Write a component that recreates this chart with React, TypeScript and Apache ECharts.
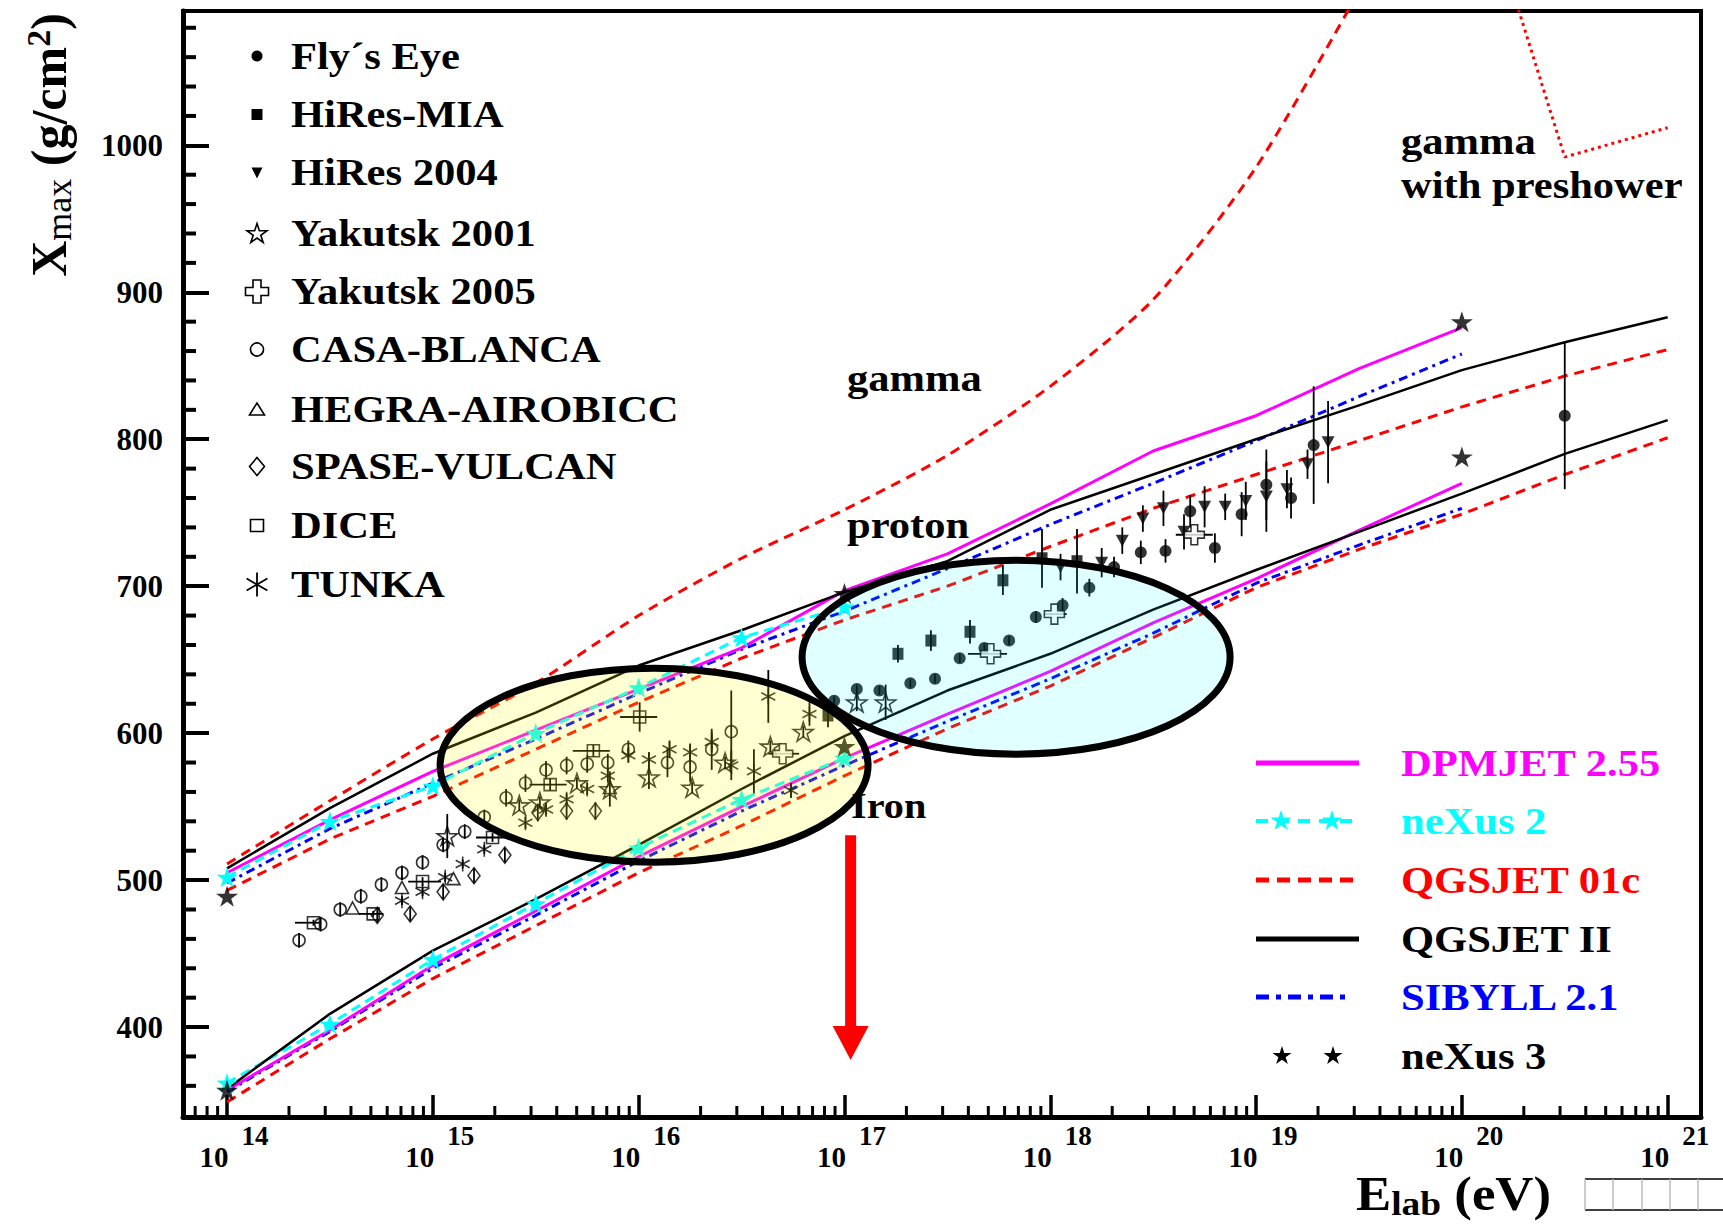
import { useEffect, useRef } from 'react';
import * as echarts from 'echarts';

const SERIF = '"Liberation Serif", "Times New Roman", Times, serif';

// ---- axis ranges (log10 E, Xmax) ----
const X_MIN = 13.786;
const X_MAX = 21.162;
const Y_MIN = 338.8;
const Y_MAX = 1091.4;

const xMajorTicks = [14, 15, 16, 17, 18, 19, 20, 21];
const yMajorTicks = [400, 500, 600, 700, 800, 900, 1000];

// ---- model curves ----
const logE = [14, 14.5, 15, 15.5, 16, 16.5, 17, 17.5, 18, 18.5, 19, 19.5, 20, 20.5, 21];
const qgsjetIIProton = [508, 549, 586, 614, 646, 670, 696, 717, 752, 776, 800, 823, 847, 866, 883];
const qgsjetIIIron = [358, 409, 452, 487, 524, 562, 598, 629, 654, 684, 711, 737, 763, 790, 813];
const qgsjet01cProton = [493, 528, 557, 589, 621, 651, 677, 700, 727, 753, 776, 799, 822, 843, 861];
const qgsjet01cIron = [349, 392, 433, 469, 505, 537, 571, 603, 632, 665, 699, 725, 749, 776, 801];
const dpmjetProton = [505, 541, 574, 602, 630, 658, 697, 722, 756, 792, 816, 848, 876];
const dpmjetIron = [357, 398, 442, 479, 516, 550, 583, 613, 642, 675, 705, 738, 770];
const sibyllProton = [498, 535, 566, 596, 627, 657, 683, 712, 742, 770, 799, 829, 858];
const sibyllIron = [356, 397, 440, 476, 513, 547, 578, 608, 637, 668, 702, 728, 753];
const nexus2Proton = [502, 540, 564, 600, 631, 665, 686];
const nexus2Iron = [362, 402, 446, 484, 522, 555, 583];
const gammaLogE = [14, 14.5, 15, 15.5, 16, 16.5, 17, 17.5, 18, 18.5, 19, 19.5];
const gammaXmax = [511, 554, 596, 634, 680, 719, 752, 789, 836, 895, 985, 1105];
const preshowerLogE = [20, 20.5, 21];
const preshowerXmax = [1215, 992, 1012];
const nexus3LogE = [14, 17, 20];
const nexus3Proton = [489, 695, 880];
const nexus3Iron = [357, 591, 788];

// ---- measurements ----
const flysEyeLogE = [16.95, 17.06, 17.17, 17.32, 17.44, 17.56, 17.68, 17.8, 17.93, 18.06, 18.19, 18.31, 18.44, 18.56, 18.68, 18.8, 18.93, 19.05, 19.17, 19.28, 20.5];
const flysEyeXmax = [622, 630, 629, 634, 637, 651, 658, 663, 679, 687, 699, 713, 723, 724, 751, 726, 749, 769, 760, 796, 816];
const flysEyeErr = [3, 3, 3, 3, 3, 3, 3, 3, 4, 5, 6, 7, 8, 8, 11, 10, 15, 24, 14, 40, 50];

const hiresMiaLogE = [16.92, 17.26, 17.42, 17.61, 17.77, 17.96, 18.13];
const hiresMiaXmax = [612, 654, 663, 669, 704, 719, 717];
const hiresMiaErr = [8, 6, 7, 8, 10, 20, 22];

const hires04LogE = [18.05, 18.25, 18.35, 18.45, 18.55, 18.65, 18.75, 18.85, 18.95, 19.05, 19.15, 19.25, 19.35];
const hires04Xmax = [713, 716, 731, 746, 753, 737, 754, 754, 758, 761, 766, 783, 798];
const hires04Err = [9, 10, 9, 9, 12, 12, 14, 9, 13, 24, 13, 10, 28];

const yak01LogE = [15.07, 15.42, 15.52, 15.7, 15.86, 16.05, 16.26, 16.42, 16.64, 16.8, 17.06, 17.2];
const yak01Xmax = [530, 551, 553, 566, 562, 570, 563, 580, 591, 601, 621, 621];
const yak01Err = [15, 4, 4, 4, 12, 8, 4, 4, 4, 4, 6, 12];

const yak05LogE = [16.7, 17.71, 18.02, 18.7];
const yak05Xmax = [586, 654, 681, 735];
const yak05Lo = [16.63, 17.6, 17.97, 18.61];
const yak05Hi = [16.78, 17.79, 18.08, 18.79];

const casaLogE = [14.35, 14.455, 14.55, 14.65, 14.75, 14.85, 14.95, 15.05, 15.155, 15.25, 15.356, 15.45, 15.55, 15.65, 15.75, 15.85, 15.95, 16.14, 16.25, 16.355, 16.45];
const casaXmax = [459, 470, 480, 489, 497, 505, 512, 524, 533, 543, 556, 566, 575, 578, 579, 580, 589, 580, 577, 589, 601];
const casaErr = [5, 5, 5, 5, 5, 5, 5, 5, 5, 5, 6, 6, 6, 6, 6, 6, 6, 10, 10, 14, 28];

const hegraLogE = [14.61, 14.85, 15.1, 15.86];
const hegraXmax = [481, 495, 501, 563];

const spaseLogE = [14.73, 14.89, 15.05, 15.2, 15.35, 15.51, 15.65, 15.79];
const spaseXmax = [476, 477, 492, 503, 517, 546, 547, 547];
const spaseErr = [5, 5, 5, 5, 5, 6, 6, 6];

const diceLogE = [14.42, 14.71, 14.95, 15.29, 15.57, 15.78, 16.005];
const diceXmax = [471, 477, 499, 529, 565, 588, 611];
const diceErr = [2, 2, 3, 3, 4, 4, 10];
const diceLo = [14.33, 14.64, 14.88, 15.21, 15.47, 15.68, 15.91];
const diceHi = [14.45, 14.76, 15.04, 15.37, 15.65, 15.86, 16.09];

const tunkaLogE = [14.85, 14.95, 15.06, 15.145, 15.25, 15.45, 15.55, 15.65, 15.75, 15.85, 15.95, 16.05, 16.15, 16.25, 16.355, 16.45, 16.56, 16.63, 16.74, 16.83];
const tunkaXmax = [486, 492, 502, 511, 521, 539, 548, 555, 562, 571, 585, 582, 589, 587, 594, 578, 574, 625, 561, 613];
const tunkaErr = [3, 3, 3, 3, 3, 4, 4, 4, 4, 4, 5, 5, 6, 6, 7, 10, 15, 18, 5, 8];

// ---- legends / annotations text ----
const dataLegendNames = ['Fly\u00b4s Eye', 'HiRes-MIA', 'HiRes 2004', 'Yakutsk 2001', 'Yakutsk 2005', 'CASA-BLANCA', 'HEGRA-AIROBICC', 'SPASE-VULCAN', 'DICE', 'TUNKA'];
const modelLegendNames = ['DPMJET 2.55', 'neXus 2', 'QGSJET 01c', 'QGSJET II', 'SIBYLL 2.1', 'neXus 3'];
const modelColors = ['#ff00ff', '#00ffff', '#ff0000', '#000000', '#0000ff', '#000000'];

// annotation anchors in data space
const yellowEllipseCenter = [16.075, 578.2];
const cyanEllipseCenter = [17.834, 651.7];
const arrowLogE = 17.03;
const arrowTop = 530.6;
const arrowHeadBase = 400.7;
const arrowTip = 377.6;

const STAR = 'path://M0,-10L2.245,-3.09L9.511,-3.09L3.633,1.18L5.878,8.09L0,3.82L-5.878,8.09L-3.633,1.18L-9.511,-3.09L-2.245,-3.09Z';
const CROSS = 'path://M-3,-9L3,-9L3,-3L9,-3L9,3L3,3L3,9L-3,9L-3,3L-9,3L-9,-3L-3,-3Z';
const ASTER = 'path://M0,-10L0,10M-8.66,-5L8.66,5M-8.66,5L8.66,-5';

const zip = (xs: number[], ys: number[]) => ys.map((y, i) => [xs[i], y]);

const modelLine = (name: string, xs: number[], ys: number[], color: string, width: number, type: any, z = 2, extra: any = {}) => ({
  name,
  type: 'line',
  data: zip(xs, ys),
  showSymbol: false,
  symbol: 'none',
  lineStyle: { color, width, type },
  z,
  silent: true,
  ...extra,
});

const nexus2Line = (name: string, ys: number[]) => ({
  name,
  type: 'line',
  data: zip(logE, ys),
  showSymbol: true,
  symbol: STAR,
  symbolSize: 21,
  symbolKeepAspect: true,
  itemStyle: { color: '#00ffff' },
  lineStyle: { color: '#00ffff', width: 3, type: [10, 6] },
  z: 3,
  silent: true,
});

const scatter = (name: string, xs: number[], ys: number[], symbol: string, size: any, filled: boolean, extra: any = {}) => ({
  name,
  type: 'scatter',
  data: zip(xs, ys),
  symbol,
  symbolSize: size,
  symbolKeepAspect: true,
  itemStyle: filled
    ? { color: '#000' }
    : { color: 'rgba(255,255,255,0)', borderColor: '#000', borderWidth: 1.6 },
  z: 5,
  silent: true,
  ...extra,
});

const vErr = (xs: number[], ys: number[], errs: number[]) => ({
  type: 'custom',
  silent: true,
  z: 4,
  data: xs.map((x, i) => [x, ys[i], ys[i] - errs[i], ys[i] + errs[i]]),
  encode: { x: 0, y: 1 },
  renderItem: (_p: any, api: any) => {
    const a = api.coord([api.value(0), api.value(2)]);
    const b = api.coord([api.value(0), api.value(3)]);
    return { type: 'line', shape: { x1: a[0], y1: a[1], x2: b[0], y2: b[1] }, style: { stroke: '#000', lineWidth: 1.8 } };
  },
});

const hErr = (lo: number[], hi: number[], ys: number[]) => ({
  type: 'custom',
  silent: true,
  z: 4,
  data: lo.map((l, i) => [(l + hi[i]) / 2, ys[i], l, hi[i]]),
  encode: { x: 0, y: 1 },
  renderItem: (_p: any, api: any) => {
    const a = api.coord([api.value(2), api.value(1)]);
    const b = api.coord([api.value(3), api.value(1)]);
    return { type: 'line', shape: { x1: a[0], y1: a[1], x2: b[0], y2: b[1] }, style: { stroke: '#000', lineWidth: 1.8 } };
  },
});

const xMinorTicks: number[] = [];
for (let d = 13; d <= 21; d++) {
  for (let k = 2; k <= 9; k++) {
    const v = d + Math.log10(k);
    if (v > X_MIN && v < X_MAX) xMinorTicks.push(v);
  }
}
const yMinorTicks: number[] = [];
for (let v = 360; v < Y_MAX; v += 20) if (v % 100 !== 0) yMinorTicks.push(v);

function buildOption(): any {
  return {
    animation: false,
    backgroundColor: '#fff',
    grid: { left: 183, right: 22, top: 11, bottom: 110, show: true, borderColor: '#000', borderWidth: 4, containLabel: false },
    xAxis: {
      type: 'value',
      min: X_MIN,
      max: X_MAX,
      axisLine: { show: true, onZero: false, lineStyle: { color: '#000', width: 5 } },
      axisTick: { show: true, inside: true, length: 22, customValues: xMajorTicks, lineStyle: { color: '#000', width: 3.5 } },
      splitLine: { show: false },
      axisLabel: {
        customValues: xMajorTicks,
        margin: 5,
        padding: [0, 0, 0, 14],
        formatter: (v: number) => `{b|10}{s|${Math.round(v)}}`,
        rich: {
          b: { fontSize: 29, fontWeight: 'bold', fontFamily: SERIF, color: '#000', lineHeight: 70 },
          s: { fontSize: 27, fontWeight: 'bold', fontFamily: SERIF, color: '#000', lineHeight: 2, verticalAlign: 'top', padding: [0, 0, 0, 13] },
        },
      },
    },
    yAxis: {
      type: 'value',
      min: Y_MIN,
      max: Y_MAX,
      axisLine: { show: true, onZero: false, lineStyle: { color: '#000', width: 5 } },
      axisTick: { show: true, inside: true, length: 26, customValues: yMajorTicks, lineStyle: { color: '#000', width: 4 } },
      splitLine: { show: false },
      axisLabel: {
        customValues: yMajorTicks,
        margin: 20,
        fontSize: 31,
        fontWeight: 'bold',
        fontFamily: SERIF,
        color: '#000',
        formatter: (v: number) => String(Math.round(v)),
      },
    },
    series: [
      // minor ticks
      {
        type: 'custom', silent: true, z: 10, clip: false,
        data: xMinorTicks.map((v) => [v, 500]),
        encode: { x: 0, y: 1 },
        renderItem: (params: any, api: any) => {
          const cs = params.coordSys;
          const x = api.coord([api.value(0), 500])[0];
          const y0 = cs.y + cs.height;
          return { type: 'line', shape: { x1: x, y1: y0, x2: x, y2: y0 - 11 }, style: { stroke: '#000', lineWidth: 3 } };
        },
      },
      {
        type: 'custom', silent: true, z: 10, clip: false,
        data: yMinorTicks.map((v) => [16, v]),
        encode: { x: 0, y: 1 },
        renderItem: (params: any, api: any) => {
          const cs = params.coordSys;
          const y = api.coord([16, api.value(1)])[1];
          return { type: 'line', shape: { x1: cs.x, y1: y, x2: cs.x + 13, y2: y }, style: { stroke: '#000', lineWidth: 4 } };
        },
      },
      // models
      modelLine('gamma', gammaLogE, gammaXmax, '#ff0000', 3, [10, 7], 2, { smooth: 0.25 }),
      modelLine('gamma with preshower', preshowerLogE, preshowerXmax, '#ff0000', 3, [3, 4]),
      modelLine('QGSJET 01c p', logE, qgsjet01cProton, '#ff0000', 3, [10, 7]),
      modelLine('QGSJET 01c Fe', logE, qgsjet01cIron, '#ff0000', 3, [10, 7]),
      modelLine('SIBYLL 2.1 p', logE, sibyllProton, '#0000ff', 3, [9, 5, 3, 5]),
      modelLine('SIBYLL 2.1 Fe', logE, sibyllIron, '#0000ff', 3, [9, 5, 3, 5]),
      modelLine('DPMJET 2.55 p', logE, dpmjetProton, '#ff00ff', 3),
      modelLine('DPMJET 2.55 Fe', logE, dpmjetIron, '#ff00ff', 3),
      nexus2Line('neXus 2 p', nexus2Proton),
      nexus2Line('neXus 2 Fe', nexus2Iron),
      modelLine('QGSJET II p', logE, qgsjetIIProton, '#000000', 2.5, 'solid', 3),
      modelLine('QGSJET II Fe', logE, qgsjetIIIron, '#000000', 2.5, 'solid', 3),
      scatter('neXus 3 p', nexus3LogE, nexus3Proton, STAR, 22, true),
      scatter('neXus 3 Fe', nexus3LogE, nexus3Iron, STAR, 22, true),
      // error bars
      vErr(flysEyeLogE, flysEyeXmax, flysEyeErr),
      vErr(hiresMiaLogE, hiresMiaXmax, hiresMiaErr),
      vErr(hires04LogE, hires04Xmax, hires04Err),
      vErr(yak01LogE, yak01Xmax, yak01Err),
      hErr(yak05Lo, yak05Hi, yak05Xmax),
      vErr(casaLogE, casaXmax, casaErr),
      vErr(spaseLogE, spaseXmax, spaseErr),
      vErr(diceLogE, diceXmax, diceErr),
      hErr(diceLo, diceHi, diceXmax),
      vErr(tunkaLogE, tunkaXmax, tunkaErr),
      // data points
      scatter('Fly\u00b4s Eye', flysEyeLogE, flysEyeXmax, 'circle', 12, true),
      scatter('HiRes-MIA', hiresMiaLogE, hiresMiaXmax, 'rect', [11, 12], true),
      scatter('HiRes 2004', hires04LogE, hires04Xmax, 'triangle', [13, 12], true, { symbolRotate: 180 }),
      scatter('Yakutsk 2001', yak01LogE, yak01Xmax, STAR, 20, false),
      scatter('Yakutsk 2005', yak05LogE, yak05Xmax, CROSS, 20, false, { itemStyle: { color: '#fff', borderColor: '#000', borderWidth: 1.6 } }),
      scatter('CASA-BLANCA', casaLogE, casaXmax, 'circle', 12, false),
      scatter('HEGRA-AIROBICC', hegraLogE, hegraXmax, 'triangle', [13, 12], false),
      scatter('SPASE-VULCAN', spaseLogE, spaseXmax, 'diamond', [12, 16], false),
      scatter('DICE', diceLogE, diceXmax, 'rect', [12, 12], false),
      scatter('TUNKA', tunkaLogE, tunkaXmax, ASTER, [14, 15], false, { symbolKeepAspect: false }),
    ],
  };
}

const starPts = (cx: number, cy: number, R: number) => {
  const pts: number[][] = [];
  for (let i = 0; i < 10; i++) {
    const a = -Math.PI / 2 + (i * Math.PI) / 5;
    const r = i % 2 ? R * 0.382 : R;
    pts.push([cx + r * Math.cos(a), cy + r * Math.sin(a)]);
  }
  return pts;
};
const crossPts = (cx: number, cy: number, h: number, w: number) => [
  [cx - w, cy - h], [cx + w, cy - h], [cx + w, cy - w], [cx + h, cy - w], [cx + h, cy + w], [cx + w, cy + w],
  [cx + w, cy + h], [cx - w, cy + h], [cx - w, cy + w], [cx - h, cy + w], [cx - h, cy - w], [cx - w, cy - w],
];

function buildGraphic(chart: any): any[] {
  const px = (p: number[]) => chart.convertToPixel({ gridIndex: 0 }, p) as number[];
  const g: any[] = [];
  const open = { fill: 'rgba(255,255,255,0)', stroke: '#000', lineWidth: 1.6 };
  const txt = (x: number, y: number, text: string, fill: string, size = 37, z = 60) => ({
    type: 'text', x, y, scaleX: 1.15, z, silent: true,
    style: { text, fill, fontSize: size, fontWeight: 'bold', fontFamily: SERIF, align: 'left', verticalAlign: 'middle' },
  });

  // annotation texts (under ellipses)
  g.push(txt(847, 378.5, 'gamma', '#000', 37, 40));
  g.push(txt(847, 525.5, 'proton', '#000', 37, 40));
  g.push(txt(851, 805.5, 'Iron', '#000', 35, 40));
  g.push(txt(1401, 141.5, 'gamma', '#000', 37, 40));
  g.push(txt(1401, 185, 'with preshower', '#000', 37, 40));

  // ellipses
  const yc = px(yellowEllipseCenter);
  const cc = px(cyanEllipseCenter);
  g.push({ type: 'ellipse', z: 50, silent: true, shape: { cx: yc[0], cy: yc[1], rx: 214, ry: 97 }, style: { fill: 'rgba(255,255,0,0.18)', stroke: '#000', lineWidth: 7 } });
  g.push({ type: 'ellipse', z: 51, silent: true, shape: { cx: cc[0], cy: cc[1], rx: 214, ry: 97 }, style: { fill: 'rgba(0,255,255,0.12)', stroke: '#000', lineWidth: 7 } });

  // red arrow
  const aTop = px([arrowLogE, arrowTop]);
  const aBase = px([arrowLogE, arrowHeadBase]);
  const aTip = px([arrowLogE, arrowTip]);
  g.push({ type: 'rect', z: 55, silent: true, shape: { x: aTop[0] - 5.5, y: aTop[1], width: 11, height: aBase[1] - aTop[1] + 1 }, style: { fill: '#ff0000' } });
  g.push({ type: 'polygon', z: 55, silent: true, shape: { points: [[aBase[0] - 18, aBase[1]], [aBase[0] + 18, aBase[1]], [aTip[0], aTip[1]]] }, style: { fill: '#ff0000' } });

  // data legend (top-left)
  const rowY = [56, 114.5, 172.5, 233, 291.5, 349.5, 409, 466.5, 525.5, 584.5];
  const mx = 257;
  dataLegendNames.forEach((name, i) => g.push(txt(291, rowY[i], name, '#000')));
  g.push({ type: 'circle', z: 60, silent: true, shape: { cx: mx, cy: rowY[0], r: 5.5 }, style: { fill: '#000' } });
  g.push({ type: 'rect', z: 60, silent: true, shape: { x: mx - 5.5, y: rowY[1] - 5.5, width: 11, height: 11 }, style: { fill: '#000' } });
  g.push({ type: 'polygon', z: 60, silent: true, shape: { points: [[mx - 5.5, rowY[2] - 5], [mx + 5.5, rowY[2] - 5], [mx, rowY[2] + 6]] }, style: { fill: '#000' } });
  g.push({ type: 'polygon', z: 60, silent: true, shape: { points: starPts(mx, rowY[3] + 1, 10.5) }, style: open });
  g.push({ type: 'polygon', z: 60, silent: true, shape: { points: crossPts(mx, rowY[4], 11.5, 4) }, style: open });
  g.push({ type: 'circle', z: 60, silent: true, shape: { cx: mx, cy: rowY[5], r: 6.5 }, style: open });
  g.push({ type: 'polygon', z: 60, silent: true, shape: { points: [[mx - 7.5, rowY[6] + 6], [mx + 7.5, rowY[6] + 6], [mx, rowY[6] - 6]] }, style: open });
  g.push({ type: 'polygon', z: 60, silent: true, shape: { points: [[mx, rowY[7] - 9], [mx + 7.5, rowY[7]], [mx, rowY[7] + 9], [mx - 7.5, rowY[7]]] }, style: open });
  g.push({ type: 'rect', z: 60, silent: true, shape: { x: mx - 6.5, y: rowY[8] - 6, width: 13, height: 12 }, style: open });
  [[0, -12, 0, 12], [-10.4, -6, 10.4, 6], [-10.4, 6, 10.4, -6]].forEach(([x1, y1, x2, y2]) =>
    g.push({ type: 'line', z: 60, silent: true, shape: { x1: mx + x1, y1: rowY[9] + y1, x2: mx + x2, y2: rowY[9] + y2 }, style: { stroke: '#000', lineWidth: 1.8 } }),
  );

  // model legend (bottom-right)
  const mRowY = [763, 821, 880, 939, 997, 1056];
  const lx0 = 1256;
  const lx1 = 1359;
  modelLegendNames.forEach((name, i) => g.push(txt(1401, mRowY[i], name, modelColors[i])));
  g.push({ type: 'line', z: 60, silent: true, shape: { x1: lx0, y1: mRowY[0], x2: lx1, y2: mRowY[0] }, style: { stroke: '#ff00ff', lineWidth: 5 } });
  g.push({ type: 'line', z: 60, silent: true, shape: { x1: lx0, y1: mRowY[1], x2: lx1 - 4, y2: mRowY[1] }, style: { stroke: '#00ffff', lineWidth: 4, lineDash: [12, 9] } });
  g.push({ type: 'polygon', z: 61, silent: true, shape: { points: starPts(1281, mRowY[1], 11) }, style: { fill: '#00ffff' } });
  g.push({ type: 'polygon', z: 61, silent: true, shape: { points: starPts(1332, mRowY[1], 11) }, style: { fill: '#00ffff' } });
  g.push({ type: 'line', z: 60, silent: true, shape: { x1: lx0, y1: mRowY[2], x2: lx1 - 4, y2: mRowY[2] }, style: { stroke: '#ff0000', lineWidth: 5, lineDash: [13, 8] } });
  g.push({ type: 'line', z: 60, silent: true, shape: { x1: lx0, y1: mRowY[3], x2: lx1, y2: mRowY[3] }, style: { stroke: '#000', lineWidth: 5 } });
  g.push({ type: 'line', z: 60, silent: true, shape: { x1: lx0, y1: mRowY[4], x2: lx1 - 8, y2: mRowY[4] }, style: { stroke: '#0000ff', lineWidth: 5, lineDash: [13, 7, 5, 7] } });
  g.push({ type: 'polygon', z: 61, silent: true, shape: { points: starPts(1282, mRowY[5], 10) }, style: { fill: '#000' } });
  g.push({ type: 'polygon', z: 61, silent: true, shape: { points: starPts(1333, mRowY[5], 10) }, style: { fill: '#000' } });

  // axis titles
  g.push({
    type: 'text', x: 49, y: 145, rotation: Math.PI / 2, z: 60, silent: true,
    style: {
      text: '{m|X}{s|max}{m| (g/cm}{p|2}{m|)}',
      align: 'center', verticalAlign: 'middle', fill: '#000',
      rich: {
        m: { fontSize: 50, fontWeight: 'bold', fontFamily: SERIF, lineHeight: 56, fill: '#000' },
        s: { fontSize: 36, fontFamily: SERIF, lineHeight: 10, verticalAlign: 'bottom', fill: '#000' },
        p: { fontSize: 34, fontWeight: 'bold', fontFamily: SERIF, lineHeight: 2, verticalAlign: 'top', fill: '#000' },
      },
    },
  });
  g.push({
    type: 'text', x: 1356, y: 1194, scaleX: 1.1, z: 60, silent: true,
    style: {
      text: '{m|E}{s|lab}{m| (eV)}',
      align: 'left', verticalAlign: 'middle', fill: '#000',
      rich: {
        m: { fontSize: 48, fontWeight: 'bold', fontFamily: SERIF, lineHeight: 54, fill: '#000' },
        s: { fontSize: 34, fontWeight: 'bold', fontFamily: SERIF, lineHeight: 20, verticalAlign: 'bottom', fill: '#000' },
      },
    },
  });

  // small boxed strip at the bottom right
  g.push({ type: 'line', z: 60, silent: true, shape: { x1: 1585, y1: 1179, x2: 1723, y2: 1179 }, style: { stroke: '#000', lineWidth: 1.5 } });
  g.push({ type: 'line', z: 60, silent: true, shape: { x1: 1585, y1: 1210, x2: 1723, y2: 1210 }, style: { stroke: '#000', lineWidth: 1.5 } });
  [1585, 1613, 1642, 1670, 1698].forEach((x) =>
    g.push({ type: 'line', z: 60, silent: true, shape: { x1: x, y1: 1179, x2: x, y2: 1210 }, style: { stroke: '#bbb', lineWidth: 1.5 } }),
  );
  return g;
}

export default function App() {
  const ref = useRef<HTMLDivElement>(null);
  useEffect(() => {
    const el = ref.current;
    if (!el) return;
    const chart = echarts.init(el, null, { renderer: 'svg' });
    chart.setOption(buildOption());
    chart.setOption({ graphic: buildGraphic(chart) });
    return () => chart.dispose();
  }, []);
  return <div ref={ref} style={{ position: 'absolute', left: 0, top: 0, width: 1723, height: 1227, background: '#fff' }} />;
}
